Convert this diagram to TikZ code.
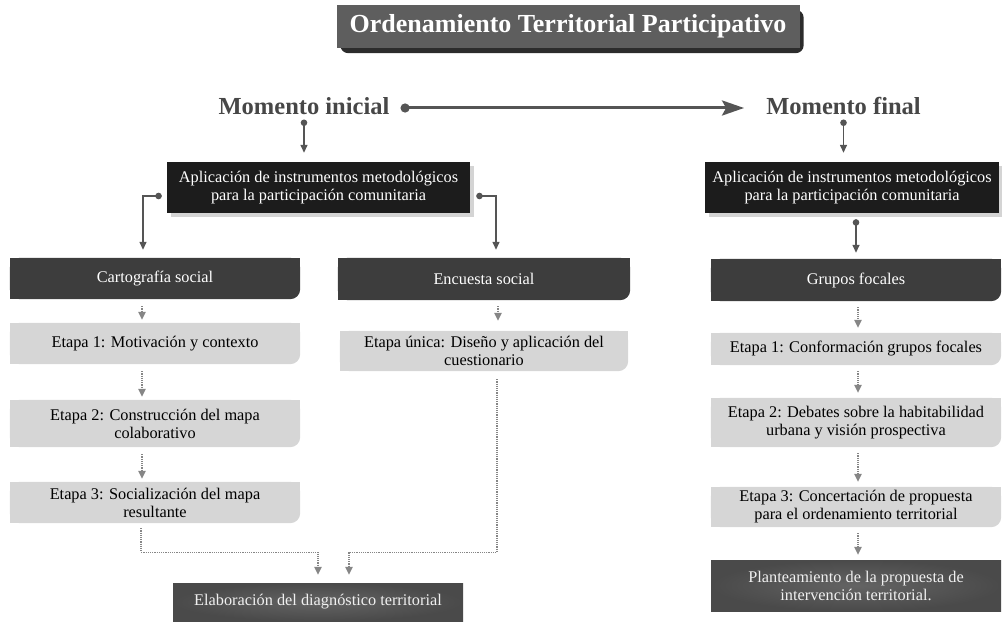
\documentclass[tikz,border=0pt]{standalone}
\usepackage{fontspec}
\setmainfont{Liberation Serif}
\usetikzlibrary{arrows.meta,backgrounds}
\definecolor{blackbox}{HTML}{1C1C1C}
\definecolor{darktab}{HTML}{3D3D3D}
\definecolor{lighttab}{HTML}{D6D6D6}
\definecolor{softshadow}{HTML}{D4D4D4}
\definecolor{titlegray}{HTML}{5E5E5E}
\definecolor{titleshadow}{HTML}{2C2C2C}
\definecolor{headgray}{HTML}{474747}
\definecolor{linegray}{HTML}{555555}
\definecolor{dotgray}{HTML}{868686}

\begin{document}
\begin{tikzpicture}[x=1pt, y=-1pt,
    every node/.style={font=\fontsize{16.3}{18}\selectfont, align=center, inner sep=0pt},
    titlebox/.style={fill=titlegray, text=white, font=\fontsize{26}{30}\selectfont\bfseries,
        minimum width=463pt, minimum height=43pt},
    moment/.style={text=headgray, font=\fontsize{24.5}{28}\selectfont\bfseries, anchor=base},
    blackrect/.style={fill=blackbox, text=white, minimum height=51pt},
    tabbox/.style={text=#1, minimum width=290pt},
    gradbox/.style={inner color=gray!78!black, outer color=gray!58!black, text=white!94!black},
    solidarrow/.style={draw=linegray, line width=1.4pt,
        {Circle[length=6.5pt,fill=linegray]}-{Triangle[length=8pt,width=7pt,fill=linegray]}},
    dots/.style={draw=dotgray, line width=1.2pt, dash pattern=on 1.2pt off 1pt,
        -{Triangle[length=8pt,width=7.5pt,fill=dotgray]}}]
\useasboundingbox (0,0) rectangle (1002,623);

% titulo
\node[titlebox] (title) at (568,26.5) {Ordenamiento Territorial Participativo};
\begin{scope}[on background layer]
\fill[titleshadow, rounded corners=8pt] ([shift={(4pt,-5pt)}]title.north west) rectangle ([shift={(4pt,-5pt)}]title.south east);
\end{scope}

% momentos
\node[moment] (ini) at (304,115) {Momento inicial};
\node[moment] (fin) at (843.5,115) {Momento final};
\draw[draw=linegray, line width=3pt, {Circle[length=9pt,fill=linegray]}-{Stealth[length=22pt,width=15pt,inset=4pt,fill=linegray]}]
    ([xshift=11pt,yshift=7pt]ini.base east) -- ([xshift=-22pt,yshift=7pt]fin.base west);

% aplicacion de instrumentos
\node[blackrect, minimum width=303pt] (apl1) at (318.5,187.5) {Aplicación de instrumentos metodológicos\\para la participación comunitaria};
\node[blackrect, minimum width=294pt] (apl2) at (852,187.5) {Aplicación de instrumentos metodológicos\\para la participación comunitaria};
\begin{scope}[on background layer]
\foreach \n in {apl1,apl2}
    \fill[softshadow] ([shift={(4pt,-4pt)}]\n.north west) rectangle ([shift={(4pt,-4pt)}]\n.south east);
\end{scope}

% columna izquierda
\node[tabbox=white, minimum height=41pt] (cart) at (155,278.5) {Cartografía social};
\node[tabbox=black, minimum height=41pt] (e1) at (155,343.5) {Etapa 1: Motivación y contexto};
\node[tabbox=black, minimum height=47pt] (e2) at (155,423.5) {Etapa 2: Construcción del mapa\\colaborativo};
\node[tabbox=black, minimum height=41pt] (e3) at (155,502.5) {Etapa 3: Socialización del mapa\\resultante};

% columna central
\node[tabbox=white, minimum width=292pt, minimum height=42pt] (ence) at (484,279) {Encuesta social};
\node[tabbox=black, minimum width=288pt, minimum height=40pt] (unica) at (484,351) {Etapa única: Diseño y aplicación del\\cuestionario};
\node[gradbox, minimum width=290pt, minimum height=38pt] (elab) at (318,602) {Elaboración del diagnóstico territorial};

% columna derecha
\node[tabbox=white, minimum height=42pt] (grup) at (856,280) {Grupos focales};
\node[tabbox=black, minimum height=32pt] (e1r) at (856,349) {Etapa 1: Conformación grupos focales};
\node[tabbox=black, minimum height=49pt] (e2r) at (856,422.5) {Etapa 2: Debates sobre la habitabilidad\\urbana y visión prospectiva};
\node[tabbox=black, minimum height=40pt] (e3r) at (856,507) {Etapa 3: Concertación de propuesta\\para el ordenamiento territorial};
\node[gradbox, minimum width=290pt, minimum height=51pt] (plan) at (856,585.5) {Planteamiento de la propuesta de\\intervención territorial.};

\begin{scope}[on background layer]
\foreach \n/\c in {cart/darktab, ence/darktab, grup/darktab, e1/lighttab, e2/lighttab, e3/lighttab,
    unica/lighttab, e1r/lighttab, e2r/lighttab, e3r/lighttab}
{
    \fill[\c, rounded corners=10pt] (\n.north west) rectangle (\n.south east);
    \fill[\c] (\n.north west) rectangle ([xshift=-10pt]\n.south east);
    \fill[\c] (\n.north west) rectangle ([yshift=10pt]\n.south east);
}
\end{scope}

% flechas solidas
\draw[solidarrow] ([yshift=-4.5pt]ini.base) -- ([yshift=9pt]ini.base |- apl1.north);
\draw[solidarrow] ([yshift=-4.5pt]fin.base) -- ([yshift=9pt]fin.base |- apl2.north);
\draw[solidarrow] ([shift={(-5pt,-8.5pt)}]apl1.west) -| ([shift={(-12pt,8pt)}]cart.north);
\draw[solidarrow] ([shift={(6pt,-8.5pt)}]apl1.east) -| ([shift={(12pt,8pt)}]ence.north);
\draw[solidarrow] ([yshift=-6pt]grup.north |- apl2.south) -- ([yshift=6pt]grup.north);

% flechas punteadas
\foreach \a/\b in {cart/e1, e1/e2, e2/e3}
    \draw[dots, shorten <=7pt, shorten >=3pt] ([xshift=-13pt]\a.south) -- ([xshift=-13pt]\b.north);
\foreach \a/\b in {grup/e1r, e1r/e2r, e2r/e3r, e3r/plan}
    \draw[dots, shorten <=6pt, shorten >=5pt] ([xshift=2pt]\a.south) -- ([xshift=2pt]\b.north);
\draw[dots, shorten <=6pt, shorten >=10pt] ([xshift=14pt]ence.south) -- ([xshift=14pt]unica.north);

\draw[dots, shorten >=8pt] ([shift={(-14pt,-5pt)}]e3.south) -- ++(0,24) -| (elab.north);
\draw[dots, shorten >=8pt] ([shift={(13pt,-8pt)}]unica.south) -- ++(0,173) -| ([xshift=31pt]elab.north);
\end{tikzpicture}
\end{document}
